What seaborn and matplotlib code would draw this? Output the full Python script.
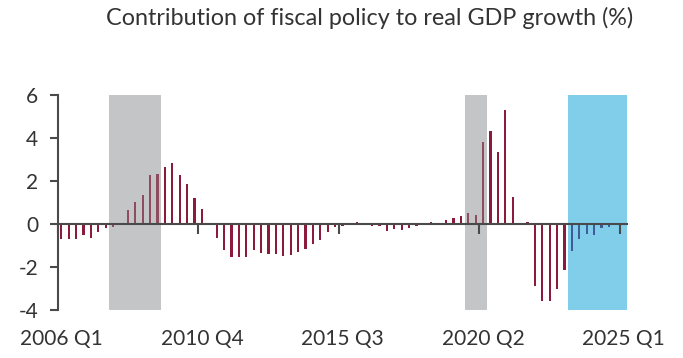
import numpy as np
import pandas as pd
import matplotlib
matplotlib.use("Agg")
import matplotlib.pyplot as plt
import seaborn as sns

# ---- data ----
start_year = 2006
values = [-0.70, -0.70, -0.71, -0.53, -0.65, -0.37, -0.20, -0.12, 0.03, 0.65,
          1.04, 1.36, 2.26, 2.34, 2.67, 2.82, 2.28, 1.84, 1.21, 0.70,
          0.00, -0.65, -1.22, -1.55, -1.55, -1.52, -1.21, -1.33, -1.41, -1.41,
          -1.49, -1.46, -1.32, -1.18, -0.93, -0.73, -0.39, -0.12, -0.08, 0.03,
          0.11, -0.06, -0.09, -0.11, -0.33, -0.22, -0.26, -0.17, -0.11, 0.00,
          0.09, 0.00, 0.19, 0.27, 0.37, 0.53, 0.42, 3.80, 4.34, 3.36,
          5.32, 1.26, 0.00, 0.08, -2.88, -3.57, -3.57, -3.04, -2.16, -1.26,
          -0.68, -0.47, -0.50, -0.17, -0.12, 0.00, 0.00]
quarters = [f"{start_year + i // 4} Q{i % 4 + 1}" for i in range(len(values))]
recessions = [("2007 Q4", "2009 Q2"), ("2019 Q4", "2020 Q2")]
forecast_start = "2023 Q2"
tick_labels = ["2006 Q1", "2010 Q4", "2015 Q3", "2020 Q2", "2025 Q1"]
yticks = [6, 4, 2, 0, -2, -4]
title = "Contribution of fiscal policy to real GDP growth (%)"

# ---- styles ----
C_BAR = "#8B1A3D"
C_REC_BAR = "#8E4C5F"
C_FC_BAR = "#3F5C98"
C_REC = "#C4C5C7"
C_FC = "#80CEEA"
C_AX = "#4A4A4C"
C_TXT = "#333333"

pos = {q: i for i, q in enumerate(quarters)}
kind = []
for i, q in enumerate(quarters):
    if i >= pos[forecast_start]:
        kind.append("forecast")
    elif any(pos[a] <= i <= pos[b] for a, b in recessions):
        kind.append("recession")
    else:
        kind.append("actual")
df = pd.DataFrame({"quarter": quarters, "value": values, "kind": kind})

sns.set_theme(style="white")
plt.rcParams["font.family"] = ["Lato", "DejaVu Sans"]
plt.rcParams["axes.unicode_minus"] = False

fig = plt.figure(figsize=(6.83, 3.58), dpi=100)
ax = fig.add_axes([57.6 / 683, 48 / 358, 569.8 / 683, 215 / 358])

for a, b in recessions:
    ax.axvspan(pos[a] - 0.5, pos[b] + 0.5, color=C_REC, lw=0, zorder=0)
ax.axvspan(pos[forecast_start] - 0.5, len(quarters) - 0.5, color=C_FC, lw=0, zorder=0)

sns.barplot(data=df, x="quarter", y="value", hue="kind",
            palette={"actual": C_BAR, "recession": C_REC_BAR, "forecast": C_FC_BAR},
            dodge=False, width=0.32, legend=False, ax=ax, zorder=2,
            linewidth=0, edgecolor="none", saturation=1)

ax.set_xlim(-0.5, len(quarters) - 0.5)
ax.set_ylim(-4, 6)
ax.set_xlabel("")
ax.set_ylabel("")

# y axis
ax.set_yticks(yticks)
ax.set_yticklabels([str(v) for v in yticks])
ax.tick_params(axis="y", length=6, width=1.5, color=C_AX, direction="out",
               labelsize=15, labelcolor=C_TXT, pad=8, left=True)
for s in ["top", "right"]:
    ax.spines[s].set_visible(False)
ax.spines["left"].set_color(C_AX)
ax.spines["left"].set_linewidth(1.5)

# zero line with boundary ticks
ax.spines["bottom"].set_position(("data", 0))
ax.spines["bottom"].set_color(C_AX)
ax.spines["bottom"].set_linewidth(1.5)
ax.spines["bottom"].set_zorder(3)
tick_pos = [pos[t] - 0.5 for t in tick_labels]
ax.set_xticks(tick_pos)
ax.set_xticklabels([""] * len(tick_pos))
ax.tick_params(axis="x", length=7, width=1.5, color=C_AX, direction="out", bottom=True)

sec = ax.secondary_xaxis(location=0)
sec.set_xticks([pos[t] for t in tick_labels])
sec.set_xticklabels(tick_labels)
sec.tick_params(axis="x", length=0, labelsize=15, labelcolor=C_TXT, pad=14)
sec.spines["bottom"].set_visible(False)

fig.text(370 / 683, 1 - 18 / 358, title, ha="center", va="center",
         fontsize=16.8, color=C_TXT)

fig.savefig("out.png", dpi=100)
